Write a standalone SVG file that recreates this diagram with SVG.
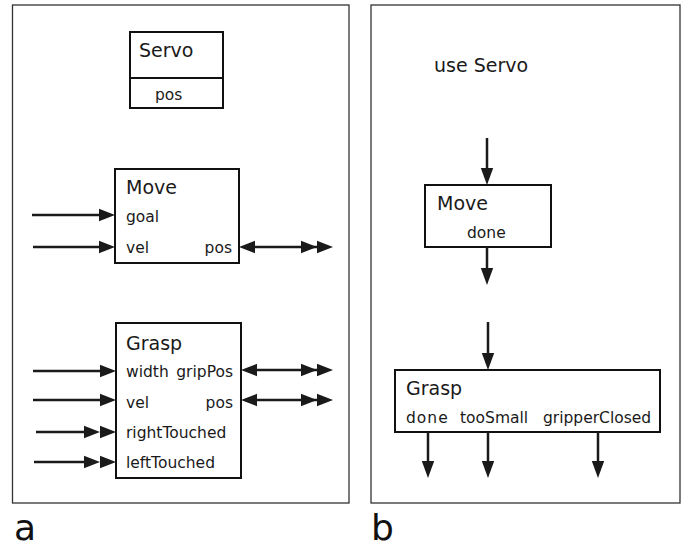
<svg xmlns="http://www.w3.org/2000/svg" xmlns:xlink="http://www.w3.org/1999/xlink" width="685" height="551" viewBox="0 0 685 551">
<style>
  .panel{fill:none;stroke:#333;stroke-width:1.3}
  .box{fill:#fff;stroke:#111;stroke-width:2}
  .title{font-family:"DejaVu Sans",sans-serif;font-size:19px;fill:#1a1a1a}
  .port{font-family:"DejaVu Sans",sans-serif;font-size:15.5px;fill:#1a1a1a}
  .big{font-family:"DejaVu Sans",sans-serif;font-size:36px;fill:#111}
  .wire{stroke:#1a1a1a;stroke-width:2.5;fill:none}
  .head{fill:#1a1a1a}
</style>
<defs>
  <path id="hr" class="head" d="M0,0 L-16,-6.2 L-16,6.2 Z"/>
  <path id="hl" class="head" d="M0,0 L16,-6.2 L16,6.2 Z"/>
  <path id="hd" class="head" d="M0,0 L-6.2,-17 L6.2,-17 Z"/>
</defs>
<rect x="0" y="0" width="685" height="551" fill="#fff"/>

<!-- panel frames -->
<rect class="panel" x="12.5" y="5" width="336.5" height="498"/>
<rect class="panel" x="371" y="5" width="309" height="498"/>
<text class="big" x="14" y="540">a</text>
<text class="big" x="371" y="540">b</text>

<!-- panel a nodes -->
<g id="servo">
  <rect class="box" x="130" y="32" width="93" height="76"/>
  <line class="box" x1="130" y1="78" x2="223" y2="78"/>
  <text class="title" x="139" y="57">Servo</text>
  <text class="port" x="155" y="100">pos</text>
</g>
<g id="move-a">
  <rect class="box" x="115" y="169" width="124" height="94"/>
  <text class="title" x="126" y="194">Move</text>
  <text class="port" x="126" y="222">goal</text>
  <text class="port" x="126" y="253">vel</text>
  <text class="port" x="232" y="253" text-anchor="end">pos</text>
</g>
<g id="grasp-a">
  <rect class="box" x="116" y="323" width="125" height="155"/>
  <text class="title" x="126" y="350">Grasp</text>
  <text class="port" x="126" y="377">width</text>
  <text class="port" x="233" y="377" text-anchor="end">gripPos</text>
  <text class="port" x="126" y="408">vel</text>
  <text class="port" x="233" y="408" text-anchor="end">pos</text>
  <text class="port" x="126" y="438">rightTouched</text>
  <text class="port" x="126" y="468">leftTouched</text>
</g>

<!-- panel b nodes -->
<g id="use-servo">
  <text class="title" x="434" y="72" font-size="18">use Servo</text>
</g>
<g id="move-b">
  <rect class="box" x="425" y="185" width="126" height="62"/>
  <text class="title" x="437" y="210">Move</text>
  <text class="port" x="467" y="238">done</text>
</g>
<g id="grasp-b">
  <rect class="box" x="395" y="370" width="265" height="62"/>
  <text class="title" x="406" y="395">Grasp</text>
  <text class="port" x="406" y="423" letter-spacing="1">done</text>
  <text class="port" x="460" y="423">tooSmall</text>
  <text class="port" x="543" y="423" font-size="14.5">gripperClosed</text>
</g>

<!-- connectors -->
<g id="connectors">
  <!-- Move a inputs -->
  <line class="wire" x1="32" y1="215" x2="102" y2="215"/>
  <use href="#hr" x="115" y="215"/>
  <line class="wire" x1="33" y1="247" x2="102" y2="247"/>
  <use href="#hr" x="115" y="247"/>
  <!-- Move a pos -->
  <line class="wire" x1="250" y1="247" x2="320" y2="247"/>
  <use href="#hl" x="239" y="247"/>
  <use href="#hr" x="317" y="247"/>
  <use href="#hr" x="333" y="247"/>
  <!-- Grasp a inputs -->
  <line class="wire" x1="33" y1="371" x2="103" y2="371"/>
  <use href="#hr" x="116" y="371"/>
  <line class="wire" x1="33" y1="400" x2="103" y2="400"/>
  <use href="#hr" x="116" y="400"/>
  <line class="wire" x1="36" y1="432" x2="90" y2="432"/>
  <use href="#hr" x="100" y="432"/>
  <use href="#hr" x="116" y="432"/>
  <line class="wire" x1="34" y1="462" x2="90" y2="462"/>
  <use href="#hr" x="100" y="462"/>
  <use href="#hr" x="116" y="462"/>
  <!-- Grasp a outputs -->
  <line class="wire" x1="252" y1="370" x2="320" y2="370"/>
  <use href="#hl" x="241" y="370"/>
  <use href="#hr" x="317" y="370"/>
  <use href="#hr" x="333" y="370"/>
  <line class="wire" x1="252" y1="400" x2="320" y2="400"/>
  <use href="#hl" x="241" y="400"/>
  <use href="#hr" x="317" y="400"/>
  <use href="#hr" x="333" y="400"/>
  <!-- panel b -->
  <line class="wire" x1="487" y1="138" x2="487" y2="172"/>
  <use href="#hd" x="487" y="185"/>
  <line class="wire" x1="487" y1="247" x2="487" y2="272"/>
  <use href="#hd" x="487" y="285"/>
  <line class="wire" x1="488" y1="322" x2="488" y2="357"/>
  <use href="#hd" x="488" y="370"/>
  <line class="wire" x1="428" y1="432" x2="428" y2="465"/>
  <use href="#hd" x="428" y="478"/>
  <line class="wire" x1="488" y1="432" x2="488" y2="465"/>
  <use href="#hd" x="488" y="478"/>
  <line class="wire" x1="598" y1="432" x2="598" y2="465"/>
  <use href="#hd" x="598" y="478"/>
</g>
</svg>
